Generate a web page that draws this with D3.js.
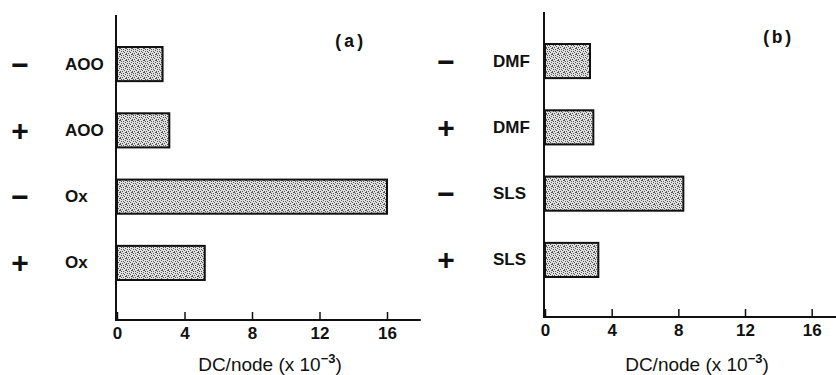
<!DOCTYPE html>
<html>
<head>
<meta charset="utf-8">
<script src="https://cdn.jsdelivr.net/npm/d3@7"></script>
<style>
  body { margin: 0; background: #fff; }
  svg { display: block; }
  .lbl { font-family: "Liberation Sans", Arial, sans-serif; font-weight: bold; fill: #111; }
  .tick text { font-family: "Liberation Sans", Arial, sans-serif; font-weight: bold; font-size: 17px; fill: #111; }
</style>
</head>
<body>
<svg id="chart" width="836" height="375"></svg>
<script>
// ---- data ----
var xTicks = [0, 4, 8, 12, 16];

var signsA = ["\u2212", "+", "\u2212", "+"];
var agentsA = ["AOO", "AOO", "Ox", "Ox"];
var valuesA = [2.7, 3.1, 16.0, 5.2];

var signsB = ["\u2212", "+", "\u2212", "+"];
var agentsB = ["DMF", "DMF", "SLS", "SLS"];
var valuesB = [2.7, 2.9, 8.3, 3.2];

var svg = d3.select("#chart");

// stipple fill like the printed dots
var defs = svg.append("defs");
var pat = defs.append("pattern").attr("id", "stipple")
    .attr("patternUnits", "userSpaceOnUse").attr("width", 6).attr("height", 6);
pat.append("rect").attr("width", 6).attr("height", 6).attr("fill", "#e0e0e0");
[[0, 0], [3, 1], [5, 2], [1, 3], [4, 4], [2, 5], [0, 5], [3, 3], [5, 0], [1, 1]].forEach(function (p) {
    pat.append("rect").attr("x", p[0]).attr("y", p[1]).attr("width", 1).attr("height", 1).attr("fill", "#555");
});

// one panel
function drawPanel(cfg) {
    var g = svg.append("g");
    var x = d3.scaleLinear().domain([0, 18]).range([cfg.x0, cfg.x1]);
    var y = d3.scaleBand().domain(d3.range(cfg.values.length))
        .range([cfg.barTop, cfg.barBottom]).paddingInner(0.485).paddingOuter(0);

    // bars
    g.selectAll("rect.bar").data(cfg.values).join("rect")
        .attr("class", "bar")
        .attr("x", x(0))
        .attr("y", function (d, i) { return y(i); })
        .attr("width", function (d) { return x(d) - x(0); })
        .attr("height", y.bandwidth())
        .attr("fill", "url(#stipple)")
        .attr("stroke", "#111").attr("stroke-width", 2);

    // y axis line
    g.append("line")
        .attr("x1", x(0) - 1).attr("x2", x(0) - 1)
        .attr("y1", cfg.axisTop).attr("y2", cfg.baseY)
        .attr("stroke", "#111").attr("stroke-width", 2);

    // x axis, ticks pointing up
    var ax = g.append("g").attr("transform", "translate(0," + cfg.baseY + ")")
        .call(d3.axisBottom(x).tickValues(xTicks).tickSizeInner(-8).tickSizeOuter(0).tickPadding(7));
    ax.select(".domain").attr("stroke", "#111").attr("stroke-width", 2).attr("d", "M" + (x(0) - 2) + ",0H" + cfg.x1);
    ax.selectAll(".tick line").attr("stroke", "#111").attr("stroke-width", 1.5);

    // row labels
    g.selectAll("text.sign").data(cfg.signs).join("text")
        .attr("class", "lbl sign")
        .attr("x", cfg.signX)
        .attr("y", function (d, i) { return y(i) + y.bandwidth() / 2; })
        .attr("text-anchor", "middle").attr("dominant-baseline", "central")
        .style("font-size", "30px")
        .text(function (d) { return d; });

    g.selectAll("text.agent").data(cfg.agents).join("text")
        .attr("class", "lbl agent")
        .attr("x", cfg.agentX)
        .attr("y", function (d, i) { return y(i) + y.bandwidth() / 2; })
        .attr("dominant-baseline", "central")
        .style("font-size", "17px")
        .text(function (d) { return d; });

    // panel tag
    g.append("text").attr("class", "lbl")
        .attr("x", cfg.tagX).attr("y", cfg.tagY)
        .style("font-family", "'Liberation Mono', 'DejaVu Sans Mono', monospace")
        .style("font-size", "18px")
        .text(cfg.tag);

    // x axis title
    var t = g.append("text")
        .attr("x", cfg.titleX).attr("y", 371)
        .attr("text-anchor", "middle")
        .style("font-family", "'Liberation Sans', Arial, sans-serif")
        .style("font-size", "19px").attr("fill", "#111");
    t.append("tspan").text("DC/node (x 10");
    t.append("tspan").attr("dy", -8).style("font-size", "13px").style("font-weight", "bold").text("\u22123");
    t.append("tspan").attr("dy", 8).text(")");
}

drawPanel({
    values: valuesA, signs: signsA, agents: agentsA, tag: "(a)",
    x0: 117, x1: 420.75, barTop: 47, barBottom: 280,
    axisTop: 15, baseY: 320, signX: 20, agentX: 65,
    tagX: 333, tagY: 47, titleX: 270
});

drawPanel({
    values: valuesB, signs: signsB, agents: agentsB, tag: "(b)",
    x0: 545, x1: 845, barTop: 44, barBottom: 277,
    axisTop: 12, baseY: 317, signX: 446, agentX: 493,
    tagX: 761, tagY: 43, titleX: 697
});
</script>
</body>
</html>
